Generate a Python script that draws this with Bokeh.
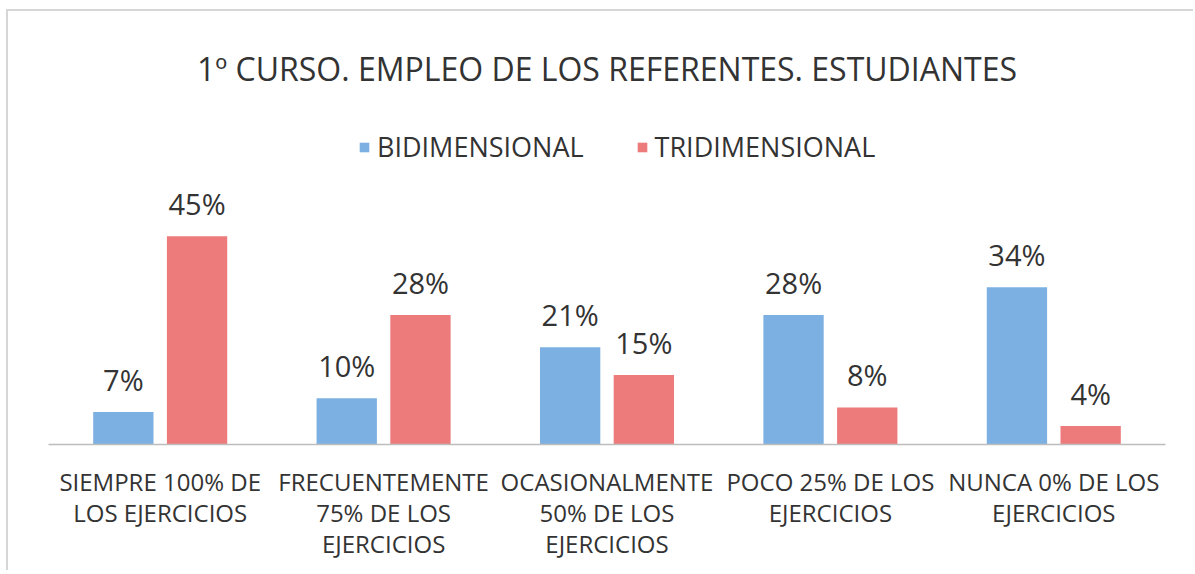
from bokeh.plotting import figure
from bokeh.models import ColumnDataSource, Range1d, LabelSet, Legend, LegendItem, FactorRange
from bokeh.core.properties import value
from bokeh.transform import dodge
from bokeh.embed import file_html
from bokeh.resources import INLINE

categories = [
    "SIEMPRE 100% DE\nLOS EJERCICIOS",
    "FRECUENTEMENTE\n75% DE LOS\nEJERCICIOS",
    "OCASIONALMENTE\n50% DE LOS\nEJERCICIOS",
    "POCO 25% DE LOS\nEJERCICIOS",
    "NUNCA 0% DE LOS\nEJERCICIOS",
]
bidimensional = [7, 10, 21, 28, 34]
tridimensional = [45, 28, 15, 8, 4]
series_names = ["BIDIMENSIONAL", "TRIDIMENSIONAL"]
title_text = "1º CURSO. EMPLEO DE LOS REFERENTES. ESTUDIANTES"

FONT = "Open Sans"
TXT = "#333333"
BLUE = "#7db0e2"
RED = "#ee7b7b"

src = ColumnDataSource(dict(
    cat=categories,
    bi=bidimensional,
    tri=tridimensional,
    bi_lbl=[f"{v}%" for v in bidimensional],
    tri_lbl=[f"{v}%" for v in tridimensional],
))

p = figure(
    x_range=FactorRange(*categories, range_padding=0),
    y_range=Range1d(0, 70),
    width=1187, height=561,
    output_backend="svg", toolbar_location=None,
    min_border_left=40, min_border_right=30,
    min_border_top=109, min_border_bottom=128,
)
p.margin = (9, 0, 0, 6)
p.styles = {"border-top": "2px solid #d6d6d6", "border-left": "2px solid #d6d6d6"}

r1 = p.vbar(x=dodge("cat", -0.165, range=p.x_range), top="bi", width=0.27, source=src,
            fill_color=BLUE, line_color=None)
r2 = p.vbar(x=dodge("cat", 0.165, range=p.x_range), top="tri", width=0.27, source=src,
            fill_color=RED, line_color=None)

for col, lbl, off in [("bi", "bi_lbl", -0.165), ("tri", "tri_lbl", 0.165)]:
    ls = LabelSet(x=dodge("cat", off, range=p.x_range), y=col, text=lbl, source=src,
                  y_offset=21, text_align="center", text_baseline="alphabetic",
                  text_font=value(FONT), text_font_size="29px", text_color=TXT)
    p.add_layout(ls)

p.title.text = title_text
p.title.align = "center"
p.title.text_font = FONT
p.title.text_font_size = "32px"
p.title.text_font_style = "normal"
p.title.text_color = TXT
p.title.standoff = 62

legend = Legend(items=[LegendItem(label=series_names[0], renderers=[r1]),
                       LegendItem(label=series_names[1], renderers=[r2])],
                orientation="horizontal", location=(310, 279),
                label_text_font=FONT, label_text_font_size="27px", label_text_color=TXT,
                glyph_width=12, glyph_height=12, spacing=52, label_standoff=7,
                background_fill_alpha=0, border_line_color=None, margin=0, padding=10)
p.add_layout(legend)

p.xaxis.major_label_text_font = FONT
p.xaxis.major_label_text_font_size = "24px"
p.xaxis.major_label_text_color = TXT
p.xaxis.major_label_text_line_height = 0.95
p.xaxis.major_label_standoff = 14
p.xaxis.major_tick_line_color = None
p.xaxis.minor_tick_line_color = None
p.xaxis.axis_line_color = "#bdbdbd"
p.xaxis.axis_line_width = 1.5
p.yaxis.visible = False
p.xgrid.grid_line_color = None
p.ygrid.grid_line_color = None
p.outline_line_color = None

open("out.html", "w").write(file_html(p, INLINE))
